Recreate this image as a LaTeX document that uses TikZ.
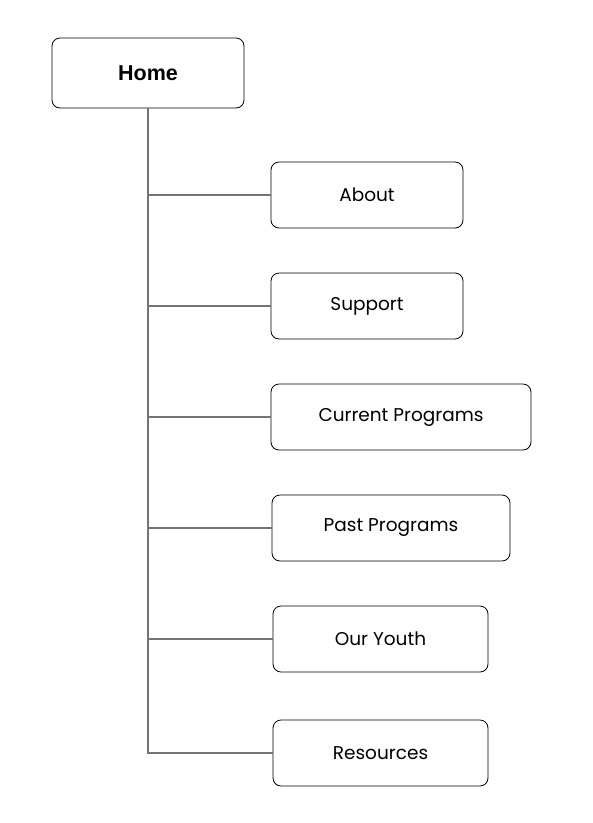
\documentclass[tikz,border=0pt]{standalone}
\usepackage{fontspec}
\setmainfont{Poppins}
\newfontfamily\homefont{Liberation Sans}
\usetikzlibrary{positioning}

\begin{document}
\begin{tikzpicture}[
x=1pt, y=-1pt,
page/.style={draw, rounded corners=8pt, line width=0.8pt, minimum height=66pt, inner sep=0pt, font=\fontsize{18.5}{22}\selectfont},
link/.style={draw=black!55, line width=1.3pt}
]
\useasboundingbox (0,0) rectangle (593,823);
\node[page, minimum width=192pt, minimum height=70pt, font=\homefont\bfseries\fontsize{21.5}{26}\selectfont] (home) at (148,73) {Home};
\node[page, minimum width=192pt] (about) at (367,195) {About};
\node[page, minimum width=192pt] (support) at (367,306) {Support};
\node[page, minimum width=260pt] (current) at (401,417) {Current Programs};
\node[page, minimum width=238pt] (past) at (391,528) {Past Programs};
\node[page, minimum width=215pt] (youth) at (380.5,639) {Our Youth};
\node[page, minimum width=215pt] (res) at (380.5,753) {Resources};

\draw[link] (home.south) -- (home.south |- res.west) -- (res.west);
\foreach \n in {about,support,current,past,youth}
  \draw[link] (home.south |- \n.west) -- (\n.west);
\end{tikzpicture}
\end{document}
